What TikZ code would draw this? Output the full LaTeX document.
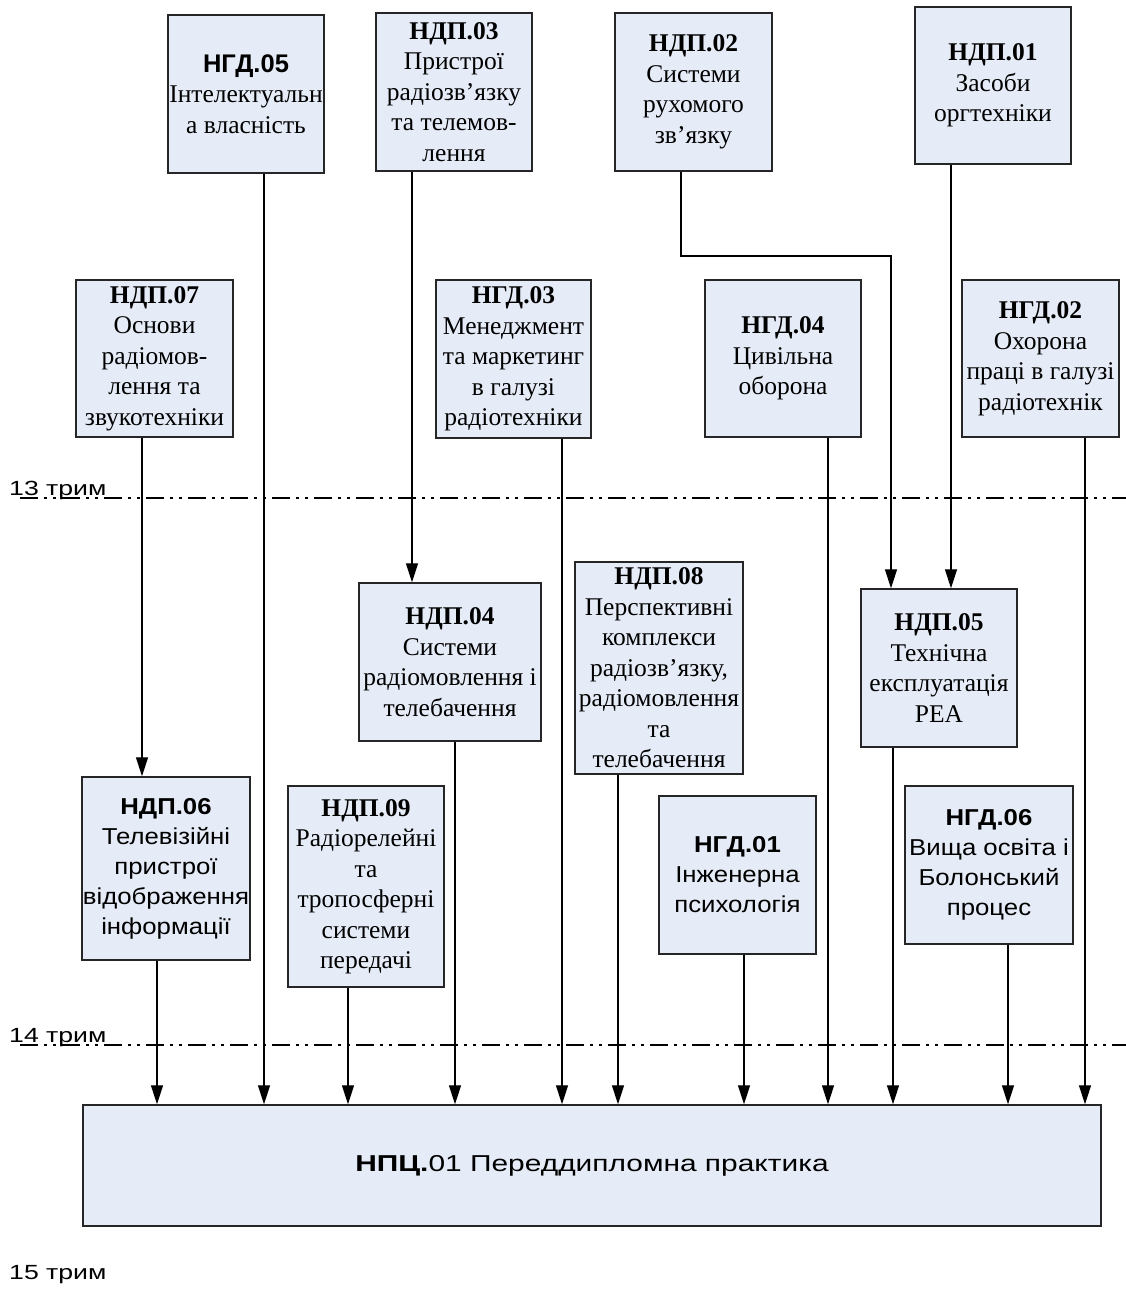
\documentclass[tikz,border=0pt]{standalone}
\usepackage{graphicx}
\usepackage{fontspec}
\setmainfont{Liberation Serif}
\setsansfont{Liberation Sans}
\newfontfamily\widesf{Liberation Sans}[FakeStretch=1.12]
\usetikzlibrary{arrows.meta,positioning}

\definecolor{boxfill}{RGB}{230,236,247}

\tikzset{
  box/.style={draw=black!85,fill=boxfill,line width=1.4pt,align=center,inner sep=0pt,
    font=\fontsize{25.5}{30.5}\selectfont},
  sbox/.style={box,font=\widesf\fontsize{23}{30}\selectfont},
  link/.style={line width=1.2pt,-{Triangle[length=19pt,width=12pt]}},
  trimline/.style={line width=2pt,dash pattern=on 18pt off 6pt on 3pt off 6pt on 3pt off 6pt},
  trimlbl/.style={inner sep=0pt,font=\sffamily\fontsize{20.5}{24}\selectfont}
}

\begin{document}
\begin{tikzpicture}[x=1pt,y=-1pt]

  \useasboundingbox (0,0) rectangle (1126,1291);

  % top row
  \node[box,minimum width=156,minimum height=158] (ngd05) at (246,94)
    {{\sffamily\bfseries НГД.05}\\Інтелектуальн\\а власність};
  \node[box,minimum width=156,minimum height=158] (ndp03) at (454,92)
    {\textbf{НДП.03}\\Пристрої\\радіозв’язку\\та телемов-\\лення};
  \node[box,minimum width=157,minimum height=158] (ndp02) at (693.5,92)
    {\textbf{НДП.02}\\Системи\\рухомого\\зв’язку};
  \node[box,minimum width=156,minimum height=157] (ndp01) at (993,85.5)
    {\textbf{НДП.01}\\Засоби\\оргтехніки};

  % second row
  \node[box,minimum width=157,minimum height=157] (ndp07) at (154.5,358.5)
    {\textbf{НДП.07}\\Основи\\радіомов-\\лення та\\звукотехніки};
  \node[box,minimum width=155,minimum height=158] (ngd03) at (513.5,359)
    {\textbf{НГД.03}\\Менеджмент\\та маркетинг\\в галузі\\радіотехніки};
  \node[box,minimum width=156,minimum height=157] (ngd04) at (783,358.5)
    {\textbf{НГД.04}\\Цивільна\\оборона};
  \node[box,minimum width=157,minimum height=157] (ngd02) at (1040.5,358.5)
    {\textbf{НГД.02}\\Охорона\\праці в галузі\\радіотехнік};

  % third row
  \node[box,minimum width=182,minimum height=158] (ndp04) at (450,662)
    {\textbf{НДП.04}\\Системи\\радіомовлення і\\телебачення};
  \node[box,minimum width=168,minimum height=212] (ndp08) at (659,668)
    {\textbf{НДП.08}\\Перспективні\\комплекси\\радіозв’язку,\\радіомовлення\\та\\телебачення};
  \node[box,minimum width=156,minimum height=158] (ndp05) at (939,668)
    {\textbf{НДП.05}\\Технічна\\експлуатація\\РЕА};

  % fourth row
  \node[sbox,minimum width=168,minimum height=183] (ndp06) at (166,868.5)
    {\textbf{НДП.06}\\Телевізійні\\пристрої\\відображення\\інформації};
  \node[box,minimum width=156,minimum height=201] (ndp09) at (366,886.5)
    {\textbf{НДП.09}\\Радіорелейні\\та\\тропосферні\\системи\\передачі};
  \node[sbox,minimum width=157,minimum height=158] (ngd01) at (737.5,875)
    {\textbf{НГД.01}\\Інженерна\\психологія};
  \node[sbox,minimum width=168,minimum height=158] (ngd06) at (989,865)
    {\textbf{НГД.06}\\Вища освіта і\\Болонський\\процес};

  % practice
  \node[box,font=\sffamily\fontsize{23}{30}\selectfont,minimum width=1018,minimum height=121] (npc) at (592,1165.5)
    {\scalebox{1.3}[1]{\textbf{НПЦ.}01 Переддипломна практика}};

  % trimesters
  \draw[trimline] (20,498) -- (1126,498);
  \draw[trimline] (20,1045) -- (1126,1045);
  \node[trimlbl,anchor=base west] (t13) at (9,495) {\scalebox{1.3}[1]{13 трим}};
  \node[trimlbl,anchor=base west] (t14) at (9,1042) {\scalebox{1.3}[1]{14 трим}};
  \node[trimlbl,anchor=base west] (t15) at (9,1279) {\scalebox{1.3}[1]{15 трим}};

  % links
  \draw[link] (142,0 |- ndp07.south) -- (142,0 |- ndp06.north);
  \draw[link] (412,0 |- ndp03.south) -- (412,0 |- ndp04.north);
  \draw[link] (681,0 |- ndp02.south) -- (681,256) -- (891,256) -- (891,0 |- ndp05.north);
  \draw[link] (951,0 |- ndp01.south) -- (951,0 |- ndp05.north);

  \draw[link] (157,0 |- ndp06.south) -- (157,0 |- npc.north);
  \draw[link] (264,0 |- ngd05.south) -- (264,0 |- npc.north);
  \draw[link] (348,0 |- ndp09.south) -- (348,0 |- npc.north);
  \draw[link] (455,0 |- ndp04.south) -- (455,0 |- npc.north);
  \draw[link] (562,0 |- ngd03.south) -- (562,0 |- npc.north);
  \draw[link] (618,0 |- ndp08.south) -- (618,0 |- npc.north);
  \draw[link] (744,0 |- ngd01.south) -- (744,0 |- npc.north);
  \draw[link] (828,0 |- ngd04.south) -- (828,0 |- npc.north);
  \draw[link] (893,0 |- ndp05.south) -- (893,0 |- npc.north);
  \draw[link] (1008,0 |- ngd06.south) -- (1008,0 |- npc.north);
  \draw[link] (1085,0 |- ngd02.south) -- (1085,0 |- npc.north);

\end{tikzpicture}
\end{document}
